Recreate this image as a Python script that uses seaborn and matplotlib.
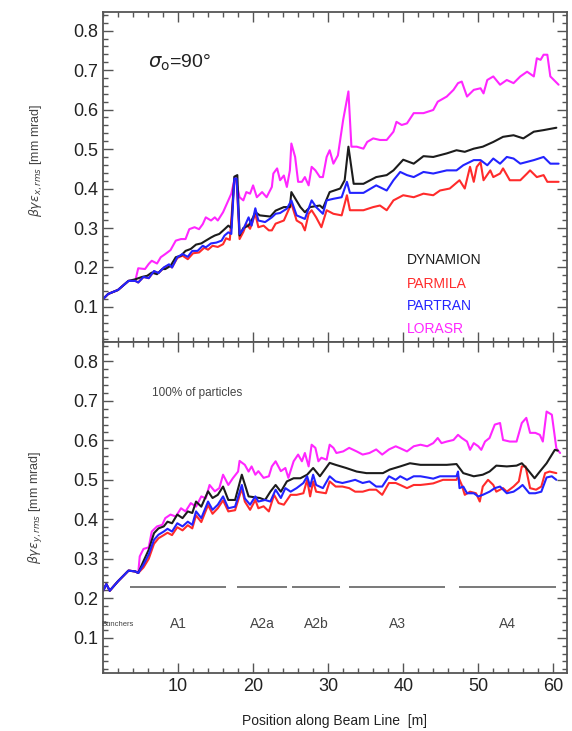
import matplotlib
matplotlib.use("Agg")
import matplotlib.pyplot as plt
import pandas as pd
import seaborn as sns
from matplotlib.ticker import MultipleLocator

# emittance along the beam line, (position [m], emittance [mm mrad])
TOP_DYNAMION = [(0, 0.120), (0.7, 0.133), (2.0, 0.143), (3.4, 0.166), (4.3, 0.170), (5.2, 0.176), (5.9, 0.179), (6.5, 0.187), (7.2, 0.183), (7.9, 0.196), (8.3, 0.196), (9.0, 0.204), (9.7, 0.226), (10.4, 0.230), (11.0, 0.242), (11.7, 0.247), (12.4, 0.258), (13.1, 0.261), (13.7, 0.268), (14.4, 0.276), (14.9, 0.281), (15.5, 0.285), (16.2, 0.297), (16.7, 0.306), (17.1, 0.300), (17.5, 0.430), (17.9, 0.434), (18.2, 0.281), (18.7, 0.300), (19.4, 0.306), (20.0, 0.327), (20.3, 0.340), (20.9, 0.332), (22.3, 0.329), (23.0, 0.344), (24.1, 0.353), (24.9, 0.353), (25.1, 0.391), (26.3, 0.353), (26.9, 0.340), (27.6, 0.353), (28.9, 0.357), (29.3, 0.350), (30.2, 0.391), (31.6, 0.400), (32.2, 0.421), (32.7, 0.506), (33.4, 0.412), (34.7, 0.412), (36.4, 0.429), (37.8, 0.434), (38.7, 0.446), (40.0, 0.473), (41.4, 0.463), (42.7, 0.482), (44.0, 0.480), (45.8, 0.489), (47.1, 0.497), (48.2, 0.493), (49.4, 0.501), (50.6, 0.506), (52.0, 0.518), (53.3, 0.531), (54.7, 0.535), (56.0, 0.527), (57.4, 0.544), (58.7, 0.548), (60.4, 0.554)]
TOP_PARTRAN = [(0, 0.120), (0.7, 0.133), (2.0, 0.143), (3.4, 0.166), (4.3, 0.166), (4.7, 0.162), (5.4, 0.176), (6.1, 0.173), (6.8, 0.191), (7.4, 0.186), (8.1, 0.200), (8.8, 0.208), (9.2, 0.200), (9.9, 0.226), (10.6, 0.234), (11.3, 0.227), (11.9, 0.242), (12.6, 0.242), (13.3, 0.255), (13.7, 0.251), (14.4, 0.261), (15.1, 0.263), (15.8, 0.268), (16.2, 0.281), (16.7, 0.289), (17.1, 0.285), (17.5, 0.425), (17.8, 0.425), (18.2, 0.285), (18.7, 0.297), (19.4, 0.327), (19.8, 0.306), (20.3, 0.350), (20.7, 0.319), (21.6, 0.315), (22.5, 0.327), (23.0, 0.336), (23.6, 0.338), (24.5, 0.349), (25.1, 0.370), (25.8, 0.332), (26.9, 0.323), (27.8, 0.370), (28.4, 0.353), (29.3, 0.336), (29.8, 0.370), (30.7, 0.374), (31.8, 0.378), (32.5, 0.417), (32.9, 0.389), (34.7, 0.389), (36.4, 0.408), (37.8, 0.395), (38.7, 0.421), (39.6, 0.442), (40.5, 0.434), (41.4, 0.429), (42.7, 0.442), (44.0, 0.438), (45.8, 0.446), (47.1, 0.446), (48.0, 0.459), (49.4, 0.472), (50.3, 0.472), (51.2, 0.459), (52.0, 0.476), (52.9, 0.463), (53.8, 0.480), (54.7, 0.476), (55.6, 0.463), (57.4, 0.472), (58.7, 0.480), (59.6, 0.463), (60.7, 0.463)]
TOP_PARMILA = [(0, 0.120), (0.7, 0.133), (2.0, 0.143), (3.4, 0.166), (4.3, 0.166), (4.7, 0.162), (5.4, 0.176), (6.1, 0.173), (6.8, 0.190), (7.4, 0.186), (8.1, 0.199), (8.8, 0.206), (9.2, 0.200), (9.9, 0.224), (10.6, 0.230), (11.3, 0.221), (12.0, 0.236), (12.8, 0.238), (13.5, 0.250), (14.0, 0.245), (14.6, 0.255), (15.3, 0.252), (16.0, 0.259), (16.4, 0.274), (16.9, 0.270), (17.5, 0.425), (17.8, 0.420), (18.2, 0.272), (18.7, 0.290), (19.1, 0.310), (19.6, 0.298), (20.3, 0.336), (20.7, 0.302), (21.4, 0.306), (22.1, 0.294), (22.5, 0.294), (23.0, 0.311), (24.1, 0.319), (25.1, 0.362), (25.8, 0.319), (26.5, 0.311), (26.9, 0.294), (27.4, 0.336), (27.8, 0.345), (28.4, 0.327), (29.1, 0.302), (29.8, 0.345), (30.7, 0.336), (31.8, 0.332), (32.5, 0.383), (32.9, 0.345), (34.7, 0.345), (36.0, 0.353), (36.9, 0.357), (37.8, 0.345), (38.7, 0.370), (40.0, 0.383), (41.4, 0.378), (42.7, 0.387), (44.0, 0.383), (44.9, 0.395), (46.2, 0.400), (47.5, 0.421), (48.2, 0.400), (48.9, 0.455), (49.4, 0.417), (49.8, 0.455), (50.3, 0.467), (50.7, 0.421), (51.6, 0.446), (52.0, 0.429), (52.9, 0.438), (53.3, 0.451), (54.2, 0.421), (55.6, 0.421), (56.5, 0.438), (56.9, 0.446), (57.8, 0.429), (58.7, 0.434), (59.2, 0.417), (60.7, 0.417)]
TOP_LORASR = [(0, 0.120), (0.7, 0.133), (2.0, 0.143), (3.4, 0.166), (4.3, 0.166), (4.7, 0.198), (5.6, 0.196), (6.1, 0.209), (6.5, 0.217), (7.2, 0.210), (7.7, 0.226), (8.3, 0.234), (9.0, 0.244), (9.7, 0.268), (10.4, 0.272), (11.0, 0.272), (11.5, 0.297), (12.2, 0.302), (12.8, 0.297), (13.3, 0.310), (13.7, 0.327), (14.4, 0.319), (14.9, 0.327), (15.3, 0.319), (16.0, 0.340), (16.4, 0.357), (17.1, 0.387), (17.6, 0.430), (18.2, 0.378), (18.7, 0.370), (19.1, 0.391), (19.6, 0.387), (20.0, 0.408), (20.5, 0.378), (21.2, 0.391), (21.8, 0.378), (22.5, 0.404), (22.7, 0.438), (23.2, 0.451), (23.6, 0.421), (24.1, 0.433), (24.5, 0.404), (24.9, 0.446), (25.1, 0.514), (25.6, 0.480), (26.0, 0.417), (26.5, 0.417), (26.9, 0.429), (27.4, 0.408), (27.8, 0.455), (28.3, 0.446), (28.9, 0.429), (29.3, 0.429), (29.8, 0.480), (30.2, 0.497), (30.7, 0.463), (31.3, 0.484), (32.0, 0.574), (32.7, 0.646), (33.1, 0.506), (33.8, 0.506), (34.7, 0.501), (35.2, 0.518), (36.0, 0.527), (36.9, 0.523), (37.8, 0.523), (38.7, 0.544), (39.1, 0.569), (39.8, 0.561), (40.5, 0.565), (41.4, 0.591), (42.7, 0.591), (44.0, 0.599), (44.6, 0.620), (45.8, 0.633), (46.7, 0.650), (47.3, 0.667), (47.8, 0.671), (48.5, 0.633), (49.4, 0.650), (50.3, 0.654), (50.7, 0.641), (51.2, 0.675), (52.0, 0.684), (52.9, 0.663), (53.8, 0.675), (54.7, 0.667), (55.6, 0.684), (56.5, 0.696), (57.4, 0.684), (57.8, 0.730), (58.3, 0.726), (58.7, 0.739), (59.2, 0.739), (59.6, 0.684), (60.7, 0.663)]

BOT_START = [(0, 0.218), (0.45, 0.236), (0.9, 0.219), (2.0, 0.243), (3.4, 0.270), (4.3, 0.268), (4.7, 0.264)]
BOT_DYNAMION = BOT_START + [(5.4, 0.294), (6.1, 0.323), (6.8, 0.365), (7.4, 0.377), (8.1, 0.382), (8.6, 0.394), (9.2, 0.390), (9.9, 0.412), (10.6, 0.403), (11.3, 0.420), (11.9, 0.416), (12.4, 0.445), (13.1, 0.432), (14.0, 0.471), (14.6, 0.454), (15.3, 0.462), (16.0, 0.483), (16.7, 0.449), (17.6, 0.449), (18.5, 0.513), (19.4, 0.458), (20.9, 0.454), (21.6, 0.449), (22.3, 0.470), (23.0, 0.487), (23.7, 0.470), (24.5, 0.496), (25.4, 0.504), (26.3, 0.504), (27.2, 0.513), (28.0, 0.530), (28.9, 0.509), (30.2, 0.543), (31.0, 0.538), (32.4, 0.530), (33.8, 0.521), (35.1, 0.517), (36.4, 0.517), (37.3, 0.517), (38.2, 0.526), (39.6, 0.534), (40.9, 0.542), (42.3, 0.538), (44.0, 0.538), (45.8, 0.538), (47.1, 0.540), (48.0, 0.517), (49.4, 0.509), (50.6, 0.513), (51.5, 0.521), (52.4, 0.536), (53.8, 0.534), (55.1, 0.536), (55.8, 0.542), (56.4, 0.530), (57.5, 0.504), (58.2, 0.521), (59.1, 0.542), (60.2, 0.576), (60.6, 0.574)]
BOT_PARTRAN = BOT_START + [(5.4, 0.285), (6.1, 0.311), (6.8, 0.348), (7.4, 0.361), (8.1, 0.369), (8.6, 0.376), (9.2, 0.369), (9.9, 0.390), (10.6, 0.382), (11.3, 0.394), (11.9, 0.386), (12.4, 0.420), (13.1, 0.403), (14.0, 0.445), (14.6, 0.424), (15.3, 0.437), (16.0, 0.458), (16.7, 0.428), (17.6, 0.432), (18.5, 0.487), (18.9, 0.453), (19.6, 0.437), (20.3, 0.458), (20.7, 0.445), (21.6, 0.449), (22.3, 0.445), (23.0, 0.475), (23.7, 0.454), (24.3, 0.479), (25.0, 0.470), (25.8, 0.479), (26.7, 0.492), (27.2, 0.509), (27.6, 0.483), (28.0, 0.513), (28.4, 0.487), (29.3, 0.479), (30.2, 0.509), (31.0, 0.496), (31.9, 0.492), (32.8, 0.496), (33.6, 0.500), (34.6, 0.492), (35.5, 0.496), (36.4, 0.483), (37.2, 0.483), (38.1, 0.509), (39.0, 0.500), (39.6, 0.509), (40.5, 0.500), (41.4, 0.509), (42.3, 0.509), (43.2, 0.506), (44.0, 0.503), (44.9, 0.509), (45.8, 0.509), (47.1, 0.509), (47.3, 0.521), (47.5, 0.479), (48.0, 0.483), (48.5, 0.466), (49.4, 0.466), (50.0, 0.458), (50.6, 0.462), (51.5, 0.470), (52.2, 0.479), (52.9, 0.483), (53.8, 0.466), (54.7, 0.470), (55.4, 0.479), (55.9, 0.487), (56.8, 0.466), (57.6, 0.466), (58.4, 0.470), (59.1, 0.506), (59.8, 0.509), (60.4, 0.500)]
BOT_PARMILA = BOT_START + [(5.4, 0.278), (6.1, 0.300), (6.8, 0.338), (7.4, 0.352), (8.1, 0.360), (8.6, 0.366), (9.2, 0.360), (9.9, 0.380), (10.6, 0.372), (11.3, 0.385), (11.9, 0.377), (12.4, 0.410), (13.1, 0.393), (14.0, 0.436), (14.6, 0.414), (15.3, 0.428), (16.0, 0.448), (16.7, 0.420), (17.6, 0.423), (18.5, 0.478), (18.9, 0.445), (19.6, 0.424), (20.3, 0.449), (20.7, 0.428), (21.4, 0.433), (22.1, 0.420), (22.8, 0.462), (23.4, 0.441), (24.1, 0.437), (25.0, 0.462), (25.8, 0.462), (26.7, 0.466), (27.2, 0.500), (27.6, 0.458), (28.0, 0.496), (28.4, 0.470), (29.7, 0.466), (30.2, 0.496), (31.0, 0.483), (31.9, 0.483), (32.8, 0.479), (33.6, 0.470), (34.6, 0.470), (35.5, 0.475), (36.4, 0.475), (37.2, 0.462), (38.1, 0.492), (39.0, 0.492), (39.6, 0.487), (40.5, 0.479), (41.4, 0.487), (42.3, 0.487), (43.2, 0.489), (44.0, 0.491), (45.3, 0.500), (47.1, 0.500), (47.3, 0.509), (47.8, 0.487), (48.2, 0.462), (48.9, 0.470), (49.7, 0.466), (50.2, 0.445), (50.6, 0.483), (51.3, 0.500), (52.0, 0.487), (52.4, 0.470), (53.3, 0.479), (53.8, 0.470), (54.7, 0.483), (55.4, 0.496), (55.8, 0.534), (56.3, 0.534), (56.9, 0.479), (57.7, 0.475), (58.4, 0.483), (58.9, 0.517), (59.5, 0.521), (60.4, 0.517)]
BOT_LORASR = BOT_START + [(4.9, 0.306), (5.4, 0.325), (6.1, 0.329), (6.5, 0.369), (7.2, 0.382), (7.9, 0.386), (8.3, 0.403), (9.0, 0.412), (9.7, 0.407), (10.4, 0.428), (11.0, 0.420), (11.7, 0.441), (12.4, 0.432), (13.1, 0.458), (13.7, 0.453), (14.2, 0.487), (14.9, 0.471), (15.5, 0.479), (16.0, 0.513), (16.7, 0.487), (17.3, 0.504), (18.0, 0.521), (18.2, 0.548), (18.9, 0.538), (19.4, 0.521), (19.8, 0.534), (20.3, 0.513), (20.7, 0.522), (21.4, 0.505), (22.1, 0.509), (22.5, 0.534), (23.0, 0.547), (23.7, 0.522), (24.3, 0.530), (24.7, 0.505), (25.4, 0.547), (26.0, 0.564), (26.5, 0.547), (26.9, 0.568), (27.4, 0.534), (27.8, 0.589), (28.3, 0.581), (28.7, 0.547), (29.1, 0.556), (29.8, 0.551), (30.2, 0.589), (30.7, 0.581), (31.1, 0.568), (32.0, 0.572), (32.8, 0.581), (33.8, 0.572), (34.6, 0.564), (35.5, 0.568), (36.4, 0.577), (37.2, 0.564), (38.1, 0.577), (39.0, 0.585), (39.6, 0.580), (40.5, 0.572), (41.4, 0.585), (42.3, 0.589), (43.2, 0.585), (44.0, 0.593), (44.6, 0.606), (45.1, 0.593), (45.8, 0.597), (46.7, 0.601), (47.3, 0.614), (47.8, 0.606), (48.5, 0.597), (48.9, 0.576), (49.4, 0.593), (50.0, 0.585), (50.4, 0.576), (50.9, 0.597), (51.5, 0.606), (52.2, 0.640), (52.9, 0.644), (53.3, 0.601), (54.2, 0.597), (55.1, 0.597), (55.8, 0.644), (56.4, 0.657), (56.9, 0.619), (57.6, 0.619), (58.2, 0.614), (58.6, 0.597), (59.1, 0.673), (59.8, 0.665), (60.4, 0.580), (60.9, 0.568)]

CODES = ["DYNAMION", "PARMILA", "PARTRAN", "LORASR"]
DRAW_ORDER = ["LORASR", "PARMILA", "DYNAMION", "PARTRAN"]
COLORS = {"DYNAMION": "#1c1c1c", "PARMILA": "#ff2b2b", "PARTRAN": "#2323ff", "LORASR": "#ff26ff"}

X_TICKS = [10, 20, 30, 40, 50, 60]
Y_TICKS = [0.1, 0.2, 0.3, 0.4, 0.5, 0.6, 0.7, 0.8]

# linac sections: (label, start [m], end [m])
SECTIONS = [("A1", 3.6, 16.4), ("A2a", 17.9, 24.5), ("A2b", 25.2, 31.6), ("A3", 32.8, 45.6), ("A4", 47.4, 60.4)]
SECTION_LEVEL = 0.228
LABEL_LEVEL = 0.134

GREY = "#444444"


def to_frame(series: dict) -> pd.DataFrame:
    rows = []
    for code, pts in series.items():
        for pos, emit in pts:
            rows.append({"pos": pos, "emit": emit, "code": code})
    return pd.DataFrame(rows)


def style_axis(ax) -> None:
    ax.set_xlim(0, 61.8)
    ax.set_ylim(0.01, 0.848)
    ax.set_xticks(X_TICKS)
    ax.xaxis.set_minor_locator(MultipleLocator(2))
    ax.set_yticks(Y_TICKS)
    ax.yaxis.set_minor_locator(MultipleLocator(0.02))
    ax.tick_params(which="both", direction="in", top=True, right=True, color="#555555", width=1.0)
    ax.tick_params(which="major", length=7, labelsize=13, labelcolor="#222222")
    ax.tick_params(which="minor", length=3.5)
    for sp in ax.spines.values():
        sp.set_color("#555555")
        sp.set_linewidth(1.3)
        sp.set_visible(True)
    ax.set_xlabel("")


sns.set_style("ticks")
plt.rcParams["font.family"] = ["Liberation Sans", "DejaVu Sans"]
plt.rcParams["mathtext.fontset"] = "dejavusans"

fig, (ax1, ax2) = plt.subplots(2, 1, figsize=(5.72, 7.31), dpi=100, sharex=True)
fig.subplots_adjust(left=0.180, right=0.991, top=0.984, bottom=0.079, hspace=0)

top = to_frame({"DYNAMION": TOP_DYNAMION, "PARMILA": TOP_PARMILA, "PARTRAN": TOP_PARTRAN, "LORASR": TOP_LORASR})
bot = to_frame({"DYNAMION": BOT_DYNAMION, "PARMILA": BOT_PARMILA, "PARTRAN": BOT_PARTRAN, "LORASR": BOT_LORASR})

for ax, df in [(ax1, top), (ax2, bot)]:
    sns.lineplot(data=df, x="pos", y="emit", hue="code", hue_order=DRAW_ORDER, palette=COLORS,
                 estimator=None, sort=False, linewidth=1.5, legend=False, ax=ax)
    style_axis(ax)

ax1.tick_params(labelbottom=False)

ax1.set_ylabel(r"$\beta\gamma\epsilon_{x,rms}$ [mm mrad]", fontsize=9, color=GREY)
ax2.set_ylabel(r"$\beta\gamma\epsilon_{y,rms}$ [mm mrad]", fontsize=9, color=GREY)
ax1.yaxis.set_label_coords(-0.126, 0.55)
ax2.yaxis.set_label_coords(-0.126, 0.50)
ax2.set_xlabel("Position along Beam Line  [m]", fontsize=10, color="#222222")
ax2.xaxis.set_label_coords(0.5, -0.122)

ax1.text(6.0, 0.719, r"$\sigma_{\mathrm{o}}$=90°", fontsize=14, color="#222222", va="center", ha="left")

legend_y = [0.220, 0.159, 0.103, 0.044]
for code, ly in zip(CODES, legend_y):
    ax1.text(40.5, ly, code, fontsize=10, color=COLORS[code], va="center", ha="left")

ax2.text(6.5, 0.719, "100% of particles", fontsize=8.5, color=GREY, va="center", ha="left")

for label, x0, x1 in SECTIONS:
    ax2.hlines(SECTION_LEVEL, x0, x1, color="#555555", linewidth=1.1)
    ax2.text((x0 + x1) / 2, LABEL_LEVEL, label, fontsize=10, color=GREY, ha="center", va="center")
ax2.text(1.9, LABEL_LEVEL, "Bunchers", fontsize=5.5, color=GREY, ha="center", va="center")

fig.savefig("out.png", dpi=100)
